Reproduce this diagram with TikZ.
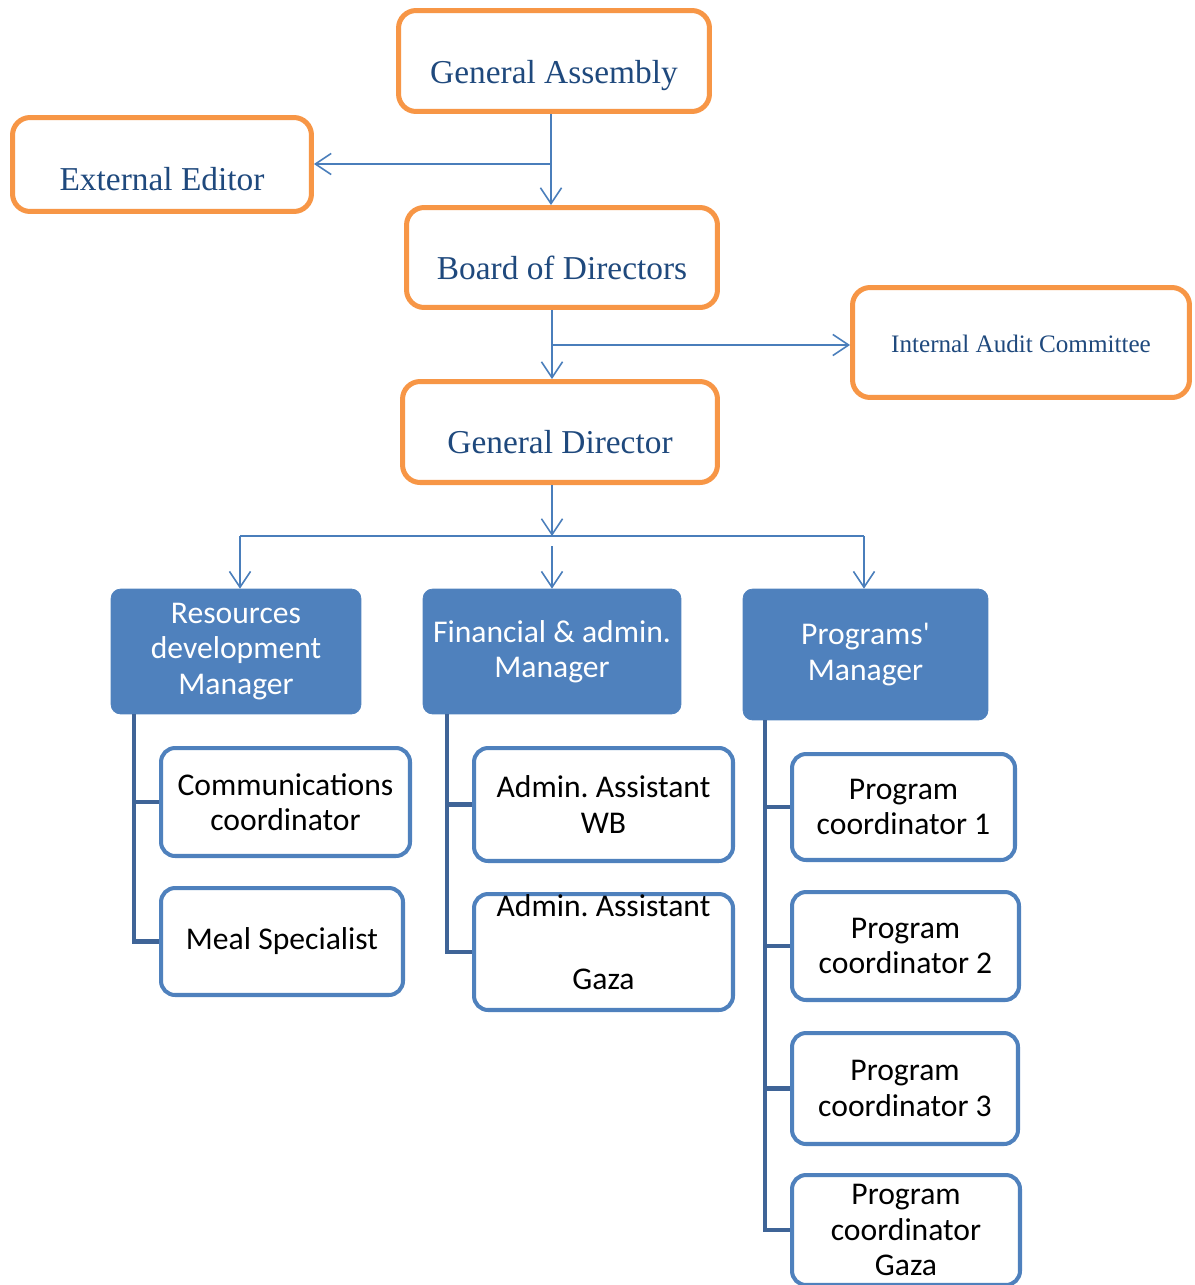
\documentclass[tikz,border=0pt]{standalone}
\usepackage{fontspec}
\setmainfont{Liberation Serif}
\newfontfamily\carlito{Carlito}
\usetikzlibrary{arrows.meta,positioning}
\definecolor{orgline}{HTML}{F79646}
\definecolor{orgtext}{HTML}{1F497D}
\definecolor{arrowblue}{HTML}{4A7EBB}
\definecolor{boxblue}{HTML}{4F81BD}
\definecolor{treeblue}{HTML}{3F6497}
\frenchspacing

\begin{document}
\begin{tikzpicture}[x=0.02cm, y=-0.02cm, >={Straight Barb[length=9pt,width=12pt]},
    obox/.style={draw=orgline, line width=2.85pt, rounded corners=10pt, fill=white},
    otext/.style={text=orgtext, font=\fontsize{19}{22}\selectfont, inner sep=0pt, anchor=base},
    mbox/.style={fill=boxblue, draw=boxblue, rounded corners=5.5pt, text=white, align=center,
        font=\carlito\fontsize{18}{20}\selectfont},
    cbox/.style={draw=boxblue, line width=2.3pt, rounded corners=8pt, fill=white, align=center,
        font=\carlito\fontsize{18}{20}\selectfont},
    arr/.style={->, draw=arrowblue, line width=0.9pt},
    tree/.style={draw=treeblue, line width=2.6pt}]
    \useasboundingbox (0,0) rectangle (1195,1285);

    % board level
    \node[obox, minimum width=6.22cm, minimum height=2.02cm] (ga) at (554,61) {};
    \node[otext] (ga-t) at (554,83) {General Assembly};
    \node[obox, minimum width=5.98cm, minimum height=1.88cm] (ee) at (162,164.5) {};
    \node[otext] (ee-t) at (162,190) {External Editor};
    \node[obox, minimum width=6.22cm, minimum height=2.0cm] (bod) at (562,257.5) {};
    \node[otext] (bod-t) at (562,279) {Board of Directors};
    \node[obox, minimum width=6.74cm, minimum height=2.2cm] (iac) at (1021,342.5) {};
    \node[otext, font=\fontsize{14.3}{17}\selectfont] (iac-t) at (1021,352) {Internal Audit Committee};
    \node[obox, minimum width=6.3cm, minimum height=2.02cm] (gd) at (560,432) {};
    \node[otext] (gd-t) at (560,453) {General Director};

    \coordinate (t1) at (551,164);
    \coordinate (t2) at (552,345);
    \coordinate (t3) at (552,536);
    \coordinate (t4) at (552,546);
    \coordinate (bl) at (240,536);
    \coordinate (br) at (864,536);
    \draw[arr] (t1 |- ga.south) -- (t1 |- bod.north);
    \draw[arr] (t1) -- (t1 -| ee.east);
    \draw[arr] (t2 |- bod.south) -- (t2 |- gd.north);
    \draw[arr] (t2) -- (t2 -| iac.west);
    \draw[arr] (t3 |- gd.south) -- (t3);

    % managers
    \node[mbox, minimum width=5cm, minimum height=2.5cm] (rdm) at (236,651.5) {Resources\\development\\Manager};
    \node[mbox, minimum width=5.16cm, minimum height=2.5cm] (fam) at (552,651.5) {Financial \& admin.\\Manager};
    \node[mbox, minimum width=4.9cm, minimum height=2.62cm] (pm) at (865.5,654.5) {Programs'\\Manager};

    \draw[arrowblue, line width=0.9pt] (bl) -- (br);
    \draw[arr] (bl) -- (bl |- rdm.north);
    \draw[arr] (t4) -- (t4 |- fam.north);
    \draw[arr] (br) -- (br |- pm.north);

    % staff
    \node[cbox, minimum width=4.98cm, minimum height=2.16cm] (comm) at (285.5,802) {Communications\\coordinator};
    \node[cbox, minimum width=4.84cm, minimum height=2.14cm] (meal) at (282,941.5) {Meal Specialist};
    \node[cbox, minimum width=5.18cm, minimum height=2.26cm] (aawb) at (603.5,804.5) {Admin. Assistant\\WB};
    \node[cbox, minimum width=5.18cm, minimum height=2.32cm, inner ysep=0pt, text depth=11.5pt] (aag) at (603.5,952) {Admin. Assistant\\[21.5pt]Gaza};
    \node[cbox, minimum width=4.46cm, minimum height=2.12cm] (pc1) at (903.5,807) {Program\\coordinator 1};
    \node[cbox, minimum width=4.54cm, minimum height=2.16cm] (pc2) at (905.5,946) {Program\\coordinator 2};
    \node[cbox, minimum width=4.52cm, minimum height=2.22cm] (pc3) at (905,1088.5) {Program\\coordinator 3};
    \node[cbox, minimum width=4.56cm, minimum height=2.2cm] (pcg) at (906,1230) {Program\\coordinator\\Gaza};

    \coordinate (rdm-t) at (134,714);
    \coordinate (fam-t) at (447,714);
    \coordinate (pm-t) at (765,720);
    \draw[tree] (rdm-t) |- (meal.west);
    \draw[tree] (rdm-t |- comm.west) -- (comm.west);
    \draw[tree] (fam-t) |- (aag.west);
    \draw[tree] (fam-t |- aawb.west) -- (aawb.west);
    \draw[tree] (pm-t) |- (pcg.west);
    \foreach \n in {pc1,pc2,pc3}
        \draw[tree] (pm-t |- \n.west) -- (\n.west);
\end{tikzpicture}
\end{document}
